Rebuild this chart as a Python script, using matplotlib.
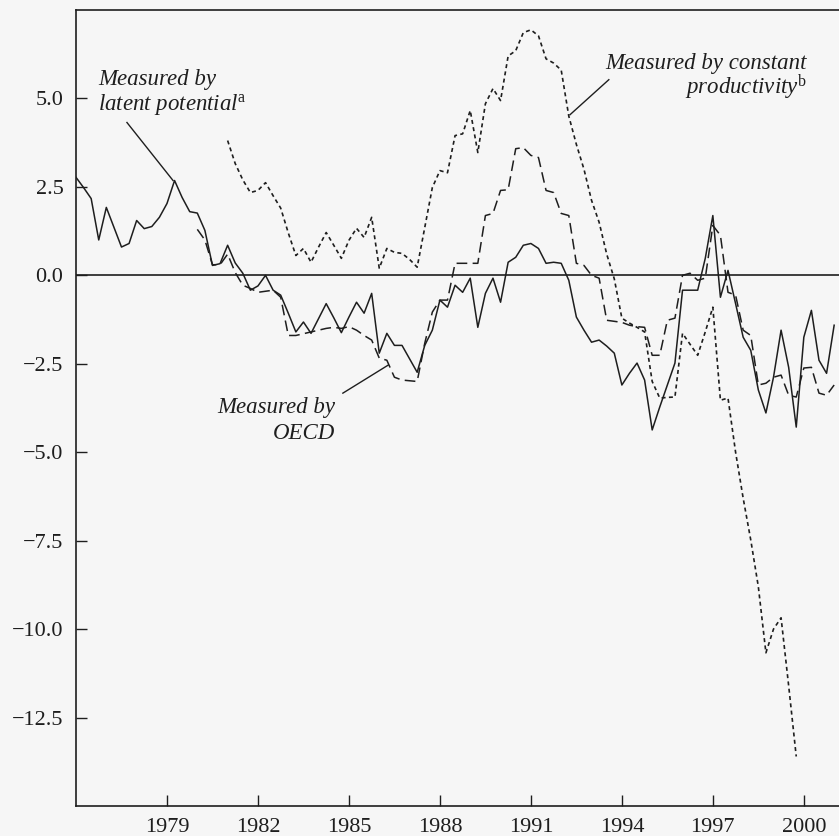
import matplotlib.pyplot as plt
import numpy as np

# quarterly output gap estimates (per cent)
LATENT_START = 1976.0
latent_potential = [
    2.77, 2.48, 2.17, 1.0, 1.92, 1.36, 0.8, 0.9, 1.55, 1.32,
    1.38, 1.64, 2.03, 2.68, 2.2, 1.8, 1.76, 1.27, 0.28, 0.33,
    0.85, 0.35, 0.06, -0.42, -0.3, 0.0, -0.42, -0.56, -1.07, -1.6,
    -1.32, -1.64, -1.22, -0.8, -1.2, -1.62, -1.18, -0.76, -1.07, -0.51,
    -2.2, -1.64, -1.98, -1.98, -2.36, -2.74, -1.98, -1.55, -0.7, -0.9,
    -0.28, -0.48, -0.08, -1.47, -0.51, -0.08, -0.76, 0.37, 0.51, 0.85,
    0.9, 0.76, 0.34, 0.37, 0.34, -0.14, -1.18, -1.55, -1.89, -1.83,
    -2.0, -2.2, -3.1, -2.77, -2.48, -2.96, -4.37, -3.72, -3.1, -2.48,
    -0.42, -0.42, -0.42, 0.48, 1.69, -0.62, 0.14, -0.8, -1.75, -2.12,
    -3.24, -3.89, -2.88, -1.55, -2.6, -4.29, -1.75, -0.99, -2.4, -2.77,
    -1.41,
]

OECD_START = 1980.0
oecd = [
    1.3, 1.0, 0.3, 0.3, 0.6, 0.08, -0.28, -0.37, -0.48, -0.45,
    -0.42, -0.62, -1.7, -1.7, -1.65, -1.6, -1.55, -1.5, -1.47, -1.5,
    -1.45, -1.55, -1.7, -1.83, -2.34, -2.4, -2.88, -2.96, -2.98, -3.0,
    -1.92, -1.04, -0.7, -0.7, 0.34, 0.34, 0.34, 0.34, 1.69, 1.75,
    2.4, 2.42, 3.58, 3.61, 3.39, 3.33, 2.4, 2.34, 1.75, 1.69,
    0.34, 0.28, 0.0, -0.08, -1.27, -1.3, -1.33, -1.41, -1.45, -1.47,
    -2.26, -2.26, -1.27, -1.21, 0.0, 0.06, -0.14, -0.08, 1.41, 1.13,
    -0.48, -0.56, -1.55, -1.7, -3.1, -3.05, -2.88, -2.82, -3.39, -3.44,
    -2.62, -2.6, -3.33, -3.39, -3.1,
]

CONSTANT_START = 1981.0
constant_productivity = [
    3.81, 3.16, 2.7, 2.34, 2.4, 2.62, 2.25, 1.9, 1.2, 0.56,
    0.76, 0.37, 0.8, 1.21, 0.85, 0.48, 0.99, 1.33, 1.07, 1.64,
    0.2, 0.76, 0.65, 0.62, 0.45, 0.23, 1.35, 2.48, 2.96, 2.9,
    3.95, 4.0, 4.66, 3.47, 4.85, 5.28, 4.94, 6.2, 6.35, 6.86,
    6.94, 6.77, 6.12, 6.0, 5.8, 4.5, 3.7, 3.0, 2.12, 1.5,
    0.6, -0.1, -1.21, -1.35, -1.47, -1.6, -3.0, -3.47, -3.45, -3.44,
    -1.64, -1.95, -2.26, -1.6, -0.9, -3.53, -3.47, -5.0, -6.3, -7.48,
    -8.8, -10.67, -10.0, -9.68, -11.6, -13.6,
]

x_ticks = [1979, 1982, 1985, 1988, 1991, 1994, 1997, 2000]
y_ticks = [5.0, 2.5, 0.0, -2.5, -5.0, -7.5, -10.0, -12.5]

INK = "#1e1e1e"
SERIF = "Liberation Serif"


def quarters(start, values):
    return start + 0.25 * np.arange(len(values))


def plot_gaps(ax):
    ax.axhline(0, color=INK, lw=1.2, zorder=1)
    ax.plot(quarters(LATENT_START, latent_potential), latent_potential,
            color=INK, lw=1.1, zorder=3)
    (dash,) = ax.plot(quarters(OECD_START, oecd), oecd, color=INK, lw=1.1, zorder=2)
    dash.set_dashes([7, 3.5])
    (dot,) = ax.plot(quarters(CONSTANT_START, constant_productivity),
                     constant_productivity, color=INK, lw=1.2, zorder=2)
    dot.set_dashes([2.4, 2.0])


def label(ax, x, y, s, ha="left"):
    ax.text(x, y, s, ha=ha, va="baseline", fontsize=16.5, style="italic",
            family=SERIF, color=INK)


def annotate(ax):
    label(ax, 1976.73, 5.39, "Measured by")
    label(ax, 1976.73, 4.66, r"latent potential$^{\mathrm{a}}$")
    ax.plot([1977.68, 1979.2], [4.32, 2.68], color=INK, lw=1.0)

    label(ax, 2000.1, 5.84, "Measured by constant", ha="right")
    label(ax, 2000.1, 5.12, r"productivity$^{\mathrm{b}}$", ha="right")
    ax.plot([1993.57, 1992.29], [5.53, 4.54], color=INK, lw=1.0)

    label(ax, 1984.54, -3.89, "Measured by", ha="right")
    label(ax, 1984.54, -4.63, "OECD", ha="right")
    ax.plot([1984.8, 1986.29], [-3.33, -2.54], color=INK, lw=1.0)


def style_axes(ax):
    ax.set_xlim(1976.0, 2001.16)
    ax.set_ylim(-15.0, 7.5)
    ax.set_xticks(x_ticks)
    ax.set_yticks(y_ticks)
    ax.set_yticklabels([f"{v:.1f}".replace("-", "\u2212") for v in y_ticks])
    ax.tick_params(direction="in", length=8, width=1.0, colors=INK,
                   labelsize=16, pad=9)
    for lab in ax.get_xticklabels() + ax.get_yticklabels():
        lab.set_family(SERIF)
    ax.spines["right"].set_visible(False)
    for side in ("left", "top", "bottom"):
        ax.spines[side].set_linewidth(1.2)
        ax.spines[side].set_color(INK)


def main():
    plt.rcParams["mathtext.fontset"] = "custom"
    plt.rcParams["mathtext.rm"] = SERIF
    plt.rcParams["mathtext.it"] = SERIF + ":italic"

    fig = plt.figure(figsize=(8.39, 8.36), dpi=100)
    fig.patch.set_facecolor("#f6f6f6")
    ax = fig.add_axes([76 / 839, 30 / 836, 1 - 76 / 839, 796 / 836])
    ax.set_facecolor("#f6f6f6")

    plot_gaps(ax)
    annotate(ax)
    style_axes(ax)

    fig.savefig("out.png", dpi=100, facecolor=fig.get_facecolor())


if __name__ == "__main__":
    main()
